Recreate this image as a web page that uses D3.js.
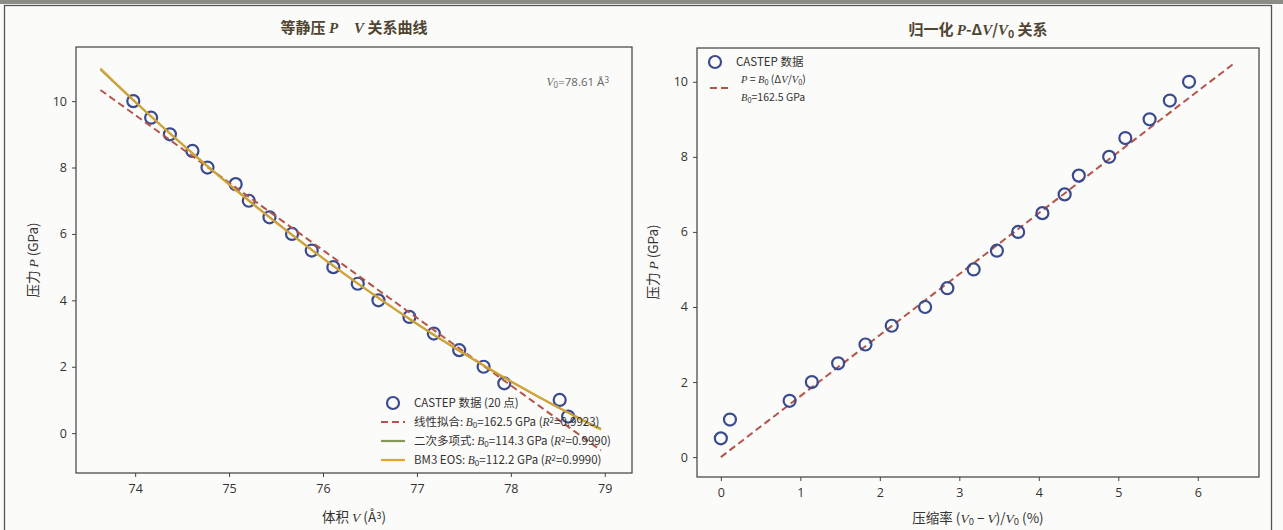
<!DOCTYPE html>
<html>
<head>
<meta charset="utf-8">
<script src="https://cdn.jsdelivr.net/npm/d3@7"></script>
<style>
  html, body { margin: 0; padding: 0; background: #dcdcd8; }
  svg { display: block; }
  text { font-family: "Open Sans", "Noto Sans CJK SC", sans-serif; fill: #333; }
  .cjk { font-family: "Noto Sans CJK SC", "Open Sans", sans-serif; }
  .math { font-family: "Liberation Serif", "DejaVu Serif", serif; font-style: italic; }
</style>
</head>
<body>
<svg id="chart"></svg>
<script>
// données
const V0 = 78.61;
const volumes = [73.98, 74.17, 74.37, 74.61, 74.77, 75.07, 75.21, 75.43, 75.67, 75.88,
                 76.11, 76.37, 76.59, 76.92, 77.18, 77.45, 77.71, 77.93, 78.52, 78.61];
const pressures = [10.0, 9.5, 9.0, 8.5, 8.0, 7.5, 7.0, 6.5, 6.0, 5.5,
                   5.0, 4.5, 4.0, 3.5, 3.0, 2.5, 2.0, 1.5, 1.0, 0.5];
const B0lin = 162.5;
const B0bm3 = 112.2;

const leftXTicks = [74, 75, 76, 77, 78, 79];
const leftYTicks = [0, 2, 4, 6, 8, 10];
const rightXTicks = [0, 1, 2, 3, 4, 5, 6];
const rightYTicks = [0, 2, 4, 6, 8, 10];

const colors = {
    marker: "#3a4a8e",
    linear: "#b4544a",
    quad: "#82985c",
    bm3: "#e6a52a"
};

const width = 1283;
const height = 530;
const svg = d3.select("#chart").attr("width", width).attr("height", height);

// fond "photo"
svg.append("rect").attr("width", width).attr("height", height).attr("fill", "#fbfbf9");
svg.append("rect").attr("x", 0).attr("y", 0).attr("width", width).attr("height", 4).attr("fill", "#8c8b86");
svg.append("rect").attr("x", 4.5).attr("y", 5.5).attr("width", 1267).attr("height", 560)
    .attr("fill", "none").attr("stroke", "#555").attr("stroke-width", 1.3);

// texte riche : segments {t, i (italique), sub, sup}
function rich(sel, parts) {
    parts.forEach(p => {
        const ts = sel.append("tspan").text(p.t);
        if (p.i) ts.attr("class", "math");
        if (p.sub) ts.attr("baseline-shift", "-25%").attr("font-size", "70%");
        if (p.sup) ts.attr("baseline-shift", "35%").attr("font-size", "70%");
        if (p.dx) ts.attr("dx", p.dx);
    });
    return sel;
}

// --- ajustements ---
function linFit(xs, ys) {
    const n = xs.length;
    const mx = d3.mean(xs), my = d3.mean(ys);
    let sxy = 0, sxx = 0;
    for (let i = 0; i < n; i++) { sxy += (xs[i] - mx) * (ys[i] - my); sxx += (xs[i] - mx) ** 2; }
    const a = sxy / sxx;
    return v => my + a * (v - mx);
}

function quadFit(xs, ys) {
    const c = d3.mean(xs);
    const u = xs.map(x => x - c);
    const S = k => d3.sum(u, x => x ** k);
    const T = k => d3.sum(u.map((x, i) => ys[i] * x ** k));
    const M = [[S(0), S(1), S(2), T(0)], [S(1), S(2), S(3), T(1)], [S(2), S(3), S(4), T(2)]];
    for (let i = 0; i < 3; i++) {
        for (let j = i + 1; j < 3; j++) {
            const f = M[j][i] / M[i][i];
            for (let k = i; k < 4; k++) M[j][k] -= f * M[i][k];
        }
    }
    const coef = [0, 0, 0];
    for (let i = 2; i >= 0; i--) {
        let s = M[i][3];
        for (let k = i + 1; k < 3; k++) s -= M[i][k] * coef[k];
        coef[i] = s / M[i][i];
    }
    return v => coef[0] + coef[1] * (v - c) + coef[2] * (v - c) ** 2;
}

function bm3(v, v0, b0, bp) {
    const x = Math.pow(v0 / v, 2 / 3);
    return 1.5 * b0 * (Math.pow(x, 3.5) - Math.pow(x, 2.5)) * (1 + 0.75 * (bp - 4) * (x - 1));
}

function bm3Fit(xs, ys, b0) {
    let best = { err: Infinity };
    for (let v0 = 78.4; v0 <= 79.6; v0 += 0.005) {
        for (let bp = 0; bp <= 20; bp += 0.05) {
            let err = 0;
            for (let i = 0; i < xs.length; i++) err += (bm3(xs[i], v0, b0, bp) - ys[i]) ** 2;
            if (err < best.err) best = { err, v0, bp };
        }
    }
    return v => bm3(v, best.v0, b0, best.bp);
}

const fLin = linFit(volumes, pressures);
const fQuad = quadFit(volumes, pressures);
const fBm3 = bm3Fit(volumes, pressures, B0bm3);

const vGrid = d3.range(81).map(i => d3.min(volumes) - 0.35 + i * (d3.max(volumes) - d3.min(volumes) + 0.7) / 80);

// --- cadre d'un panneau ---
function panel(box, xDomain, yDomain, xTicks, yTicks) {
    const x = d3.scaleLinear().domain(xDomain).range([box.x0, box.x1]);
    const y = d3.scaleLinear().domain(yDomain).range([box.y1, box.y0]);
    const g = svg.append("g");
    g.append("g").attr("transform", `translate(0,${box.y1})`)
        .call(d3.axisBottom(x).tickValues(xTicks).tickSize(4).tickPadding(7).tickFormat(d3.format("d")))
        .call(a => a.select(".domain").remove());
    g.append("g").attr("transform", `translate(${box.x0},0)`)
        .call(d3.axisLeft(y).tickValues(yTicks).tickSize(4).tickPadding(5).tickFormat(d3.format("d")))
        .call(a => a.select(".domain").remove());
    g.selectAll(".tick text").attr("font-size", 12.5).attr("fill", "#333")
        .attr("font-family", "Open Sans, sans-serif");
    g.selectAll(".tick line").attr("stroke", "#444");
    const clip = "clip" + Math.round(box.x0);
    svg.append("clipPath").attr("id", clip).append("rect")
        .attr("x", box.x0).attr("y", box.y0).attr("width", box.x1 - box.x0).attr("height", box.y1 - box.y0);
    const plot = svg.append("g").attr("clip-path", `url(#${clip})`);
    const frame = svg.append("rect").attr("x", box.x0).attr("y", box.y0)
        .attr("width", box.x1 - box.x0).attr("height", box.y1 - box.y0)
        .attr("fill", "none").attr("stroke", "#3f3f3f").attr("stroke-width", 1.2);
    return { x, y, plot, frame };
}

// ===== panneau gauche =====
const L = panel({ x0: 76, x1: 632, y0: 47, y1: 473 }, [73.37, 79.29], [-1.2, 11.63], leftXTicks, leftYTicks);

L.plot.selectAll("circle").data(volumes).join("circle")
    .attr("cx", d => L.x(d))
    .attr("cy", (d, i) => L.y(pressures[i]))
    .attr("r", 6).attr("fill", "none").attr("stroke", colors.marker).attr("stroke-width", 2.2);

const lineL = f => d3.line().x(v => L.x(v)).y(v => L.y(f(v)));
L.plot.append("path").datum(vGrid).attr("d", lineL(fLin))
    .attr("fill", "none").attr("stroke", colors.linear).attr("stroke-width", 2).attr("stroke-dasharray", "7,4");
L.plot.append("path").datum(vGrid).attr("d", lineL(fQuad))
    .attr("fill", "none").attr("stroke", colors.quad).attr("stroke-width", 2);
L.plot.append("path").datum(vGrid).attr("d", lineL(fBm3))
    .attr("fill", "none").attr("stroke", colors.bm3).attr("stroke-width", 2.2).attr("opacity", 0.8);

// titre, étiquettes
rich(svg.append("text").attr("x", 354).attr("y", 33).attr("text-anchor", "middle")
    .attr("font-size", 15).attr("font-weight", "bold").attr("class", "cjk").style("fill", "#4f4532"),
    [{ t: "等静压 " }, { t: "P", i: true }, { t: "V", i: true, dx: 16 }, { t: " 关系曲线" }]);

rich(svg.append("text").attr("x", 354).attr("y", 522).attr("text-anchor", "middle")
    .attr("font-size", 13.5).attr("class", "cjk"),
    [{ t: "体积 " }, { t: "V", i: true }, { t: " (Å" }, { t: "3", sup: true }, { t: ")" }]);

rich(svg.append("text").attr("transform", "translate(38,260) rotate(-90)").attr("text-anchor", "middle")
    .attr("font-size", 13.5).attr("class", "cjk"),
    [{ t: "压力 " }, { t: "P", i: true }, { t: " (GPa)" }]);

rich(svg.append("text").attr("x", 609).attr("y", 86).attr("text-anchor", "end")
    .attr("font-size", 11.5).style("fill", "#666"),
    [{ t: "V", i: true }, { t: "0", sub: true }, { t: "=78.61 Å" }, { t: "3", sup: true }]);

// légende gauche
const legL = [
    { kind: "marker", parts: [{ t: "CASTEP 数据 (20 点)" }] },
    { kind: "linear", parts: [{ t: "线性拟合: " }, { t: "B", i: true }, { t: "0", sub: true }, { t: "=162.5 GPa (" }, { t: "R", i: true }, { t: "2", sup: true }, { t: "=0.9923)" }] },
    { kind: "quad", parts: [{ t: "二次多项式: " }, { t: "B", i: true }, { t: "0", sub: true }, { t: "=114.3 GPa (" }, { t: "R", i: true }, { t: "2", sup: true }, { t: "=0.9990)" }] },
    { kind: "bm3", parts: [{ t: "BM3 EOS: " }, { t: "B", i: true }, { t: "0", sub: true }, { t: "=112.2 GPa (" }, { t: "R", i: true }, { t: "2", sup: true }, { t: "=0.9990)" }] }
];

function legend(items, x0, y0, dy, fs) {
    const g = svg.append("g");
    items.forEach((it, i) => {
        const y = y0 + i * dy;
        if (it.kind === "marker") {
            g.append("circle").attr("cx", x0 + 12).attr("cy", y).attr("r", 6)
                .attr("fill", "none").attr("stroke", colors.marker).attr("stroke-width", 2.2);
        } else {
            g.append("line").attr("x1", x0).attr("x2", x0 + 24).attr("y1", y).attr("y2", y)
                .attr("stroke", colors[it.kind]).attr("stroke-width", 2.2)
                .attr("stroke-dasharray", it.kind === "linear" ? "7,4" : null);
        }
        rich(g.append("text").attr("x", x0 + 33).attr("y", y).attr("dy", "0.35em")
            .attr("font-size", fs).attr("class", "cjk"), it.parts);
    });
}
legend(legL, 381, 403, 19, 11.5);

// ===== panneau droit =====
const R = panel({ x0: 697, x1: 1259, y0: 48, y1: 477 }, [-0.3, 6.77], [-0.53, 10.9], rightXTicks, rightYTicks);
const compression = volumes.map(v => (V0 - v) / V0 * 100);
const cMax = d3.max(compression) * 1.095;

R.plot.append("path").datum([0, cMax])
    .attr("d", d3.line().x(c => R.x(c)).y(c => R.y(B0lin * c / 100)))
    .attr("fill", "none").attr("stroke", colors.linear).attr("stroke-width", 2).attr("stroke-dasharray", "7,4");

R.plot.selectAll("circle").data(compression).join("circle")
    .attr("cx", d => R.x(d))
    .attr("cy", (d, i) => R.y(pressures[i]))
    .attr("r", 6).attr("fill", "none").attr("stroke", colors.marker).attr("stroke-width", 2.2);

rich(svg.append("text").attr("x", 978).attr("y", 35).attr("text-anchor", "middle")
    .attr("font-size", 15).attr("font-weight", "bold").attr("class", "cjk").style("fill", "#4f4532"),
    [{ t: "归一化 " }, { t: "P", i: true }, { t: "-Δ" }, { t: "V", i: true }, { t: "/" }, { t: "V", i: true }, { t: "0", sub: true }, { t: " 关系" }]);

rich(svg.append("text").attr("x", 978).attr("y", 523).attr("text-anchor", "middle")
    .attr("font-size", 13.5).attr("class", "cjk"),
    [{ t: "压缩率 (" }, { t: "V", i: true }, { t: "0", sub: true }, { t: " − " }, { t: "V", i: true }, { t: ")/" }, { t: "V", i: true }, { t: "0", sub: true }, { t: " (%)" }]);

rich(svg.append("text").attr("transform", "translate(658,262) rotate(-90)").attr("text-anchor", "middle")
    .attr("font-size", 13.5).attr("class", "cjk"),
    [{ t: "压力 " }, { t: "P", i: true }, { t: " (GPa)" }]);

legend([
    { kind: "marker", parts: [{ t: "CASTEP 数据" }] },
], 703, 62, 19, 11.5);

// deuxième entrée sur deux lignes
const g2 = svg.append("g");
g2.append("line").attr("x1", 710).attr("x2", 732).attr("y1", 88).attr("y2", 88)
    .attr("stroke", colors.linear).attr("stroke-width", 2.2).attr("stroke-dasharray", "7,4");
rich(g2.append("text").attr("x", 741).attr("y", 79).attr("dy", "0.35em").attr("font-size", 10.5).attr("class", "cjk"),
    [{ t: "P", i: true }, { t: " = " }, { t: "B", i: true }, { t: "0", sub: true }, { t: " (Δ" }, { t: "V", i: true }, { t: "/" }, { t: "V", i: true }, { t: "0", sub: true }, { t: ")" }]);
rich(g2.append("text").attr("x", 741).attr("y", 97).attr("dy", "0.35em").attr("font-size", 10.5).attr("class", "cjk"),
    [{ t: "B", i: true }, { t: "0", sub: true }, { t: "=162.5 GPa" }]);
</script>
</body>
</html>
